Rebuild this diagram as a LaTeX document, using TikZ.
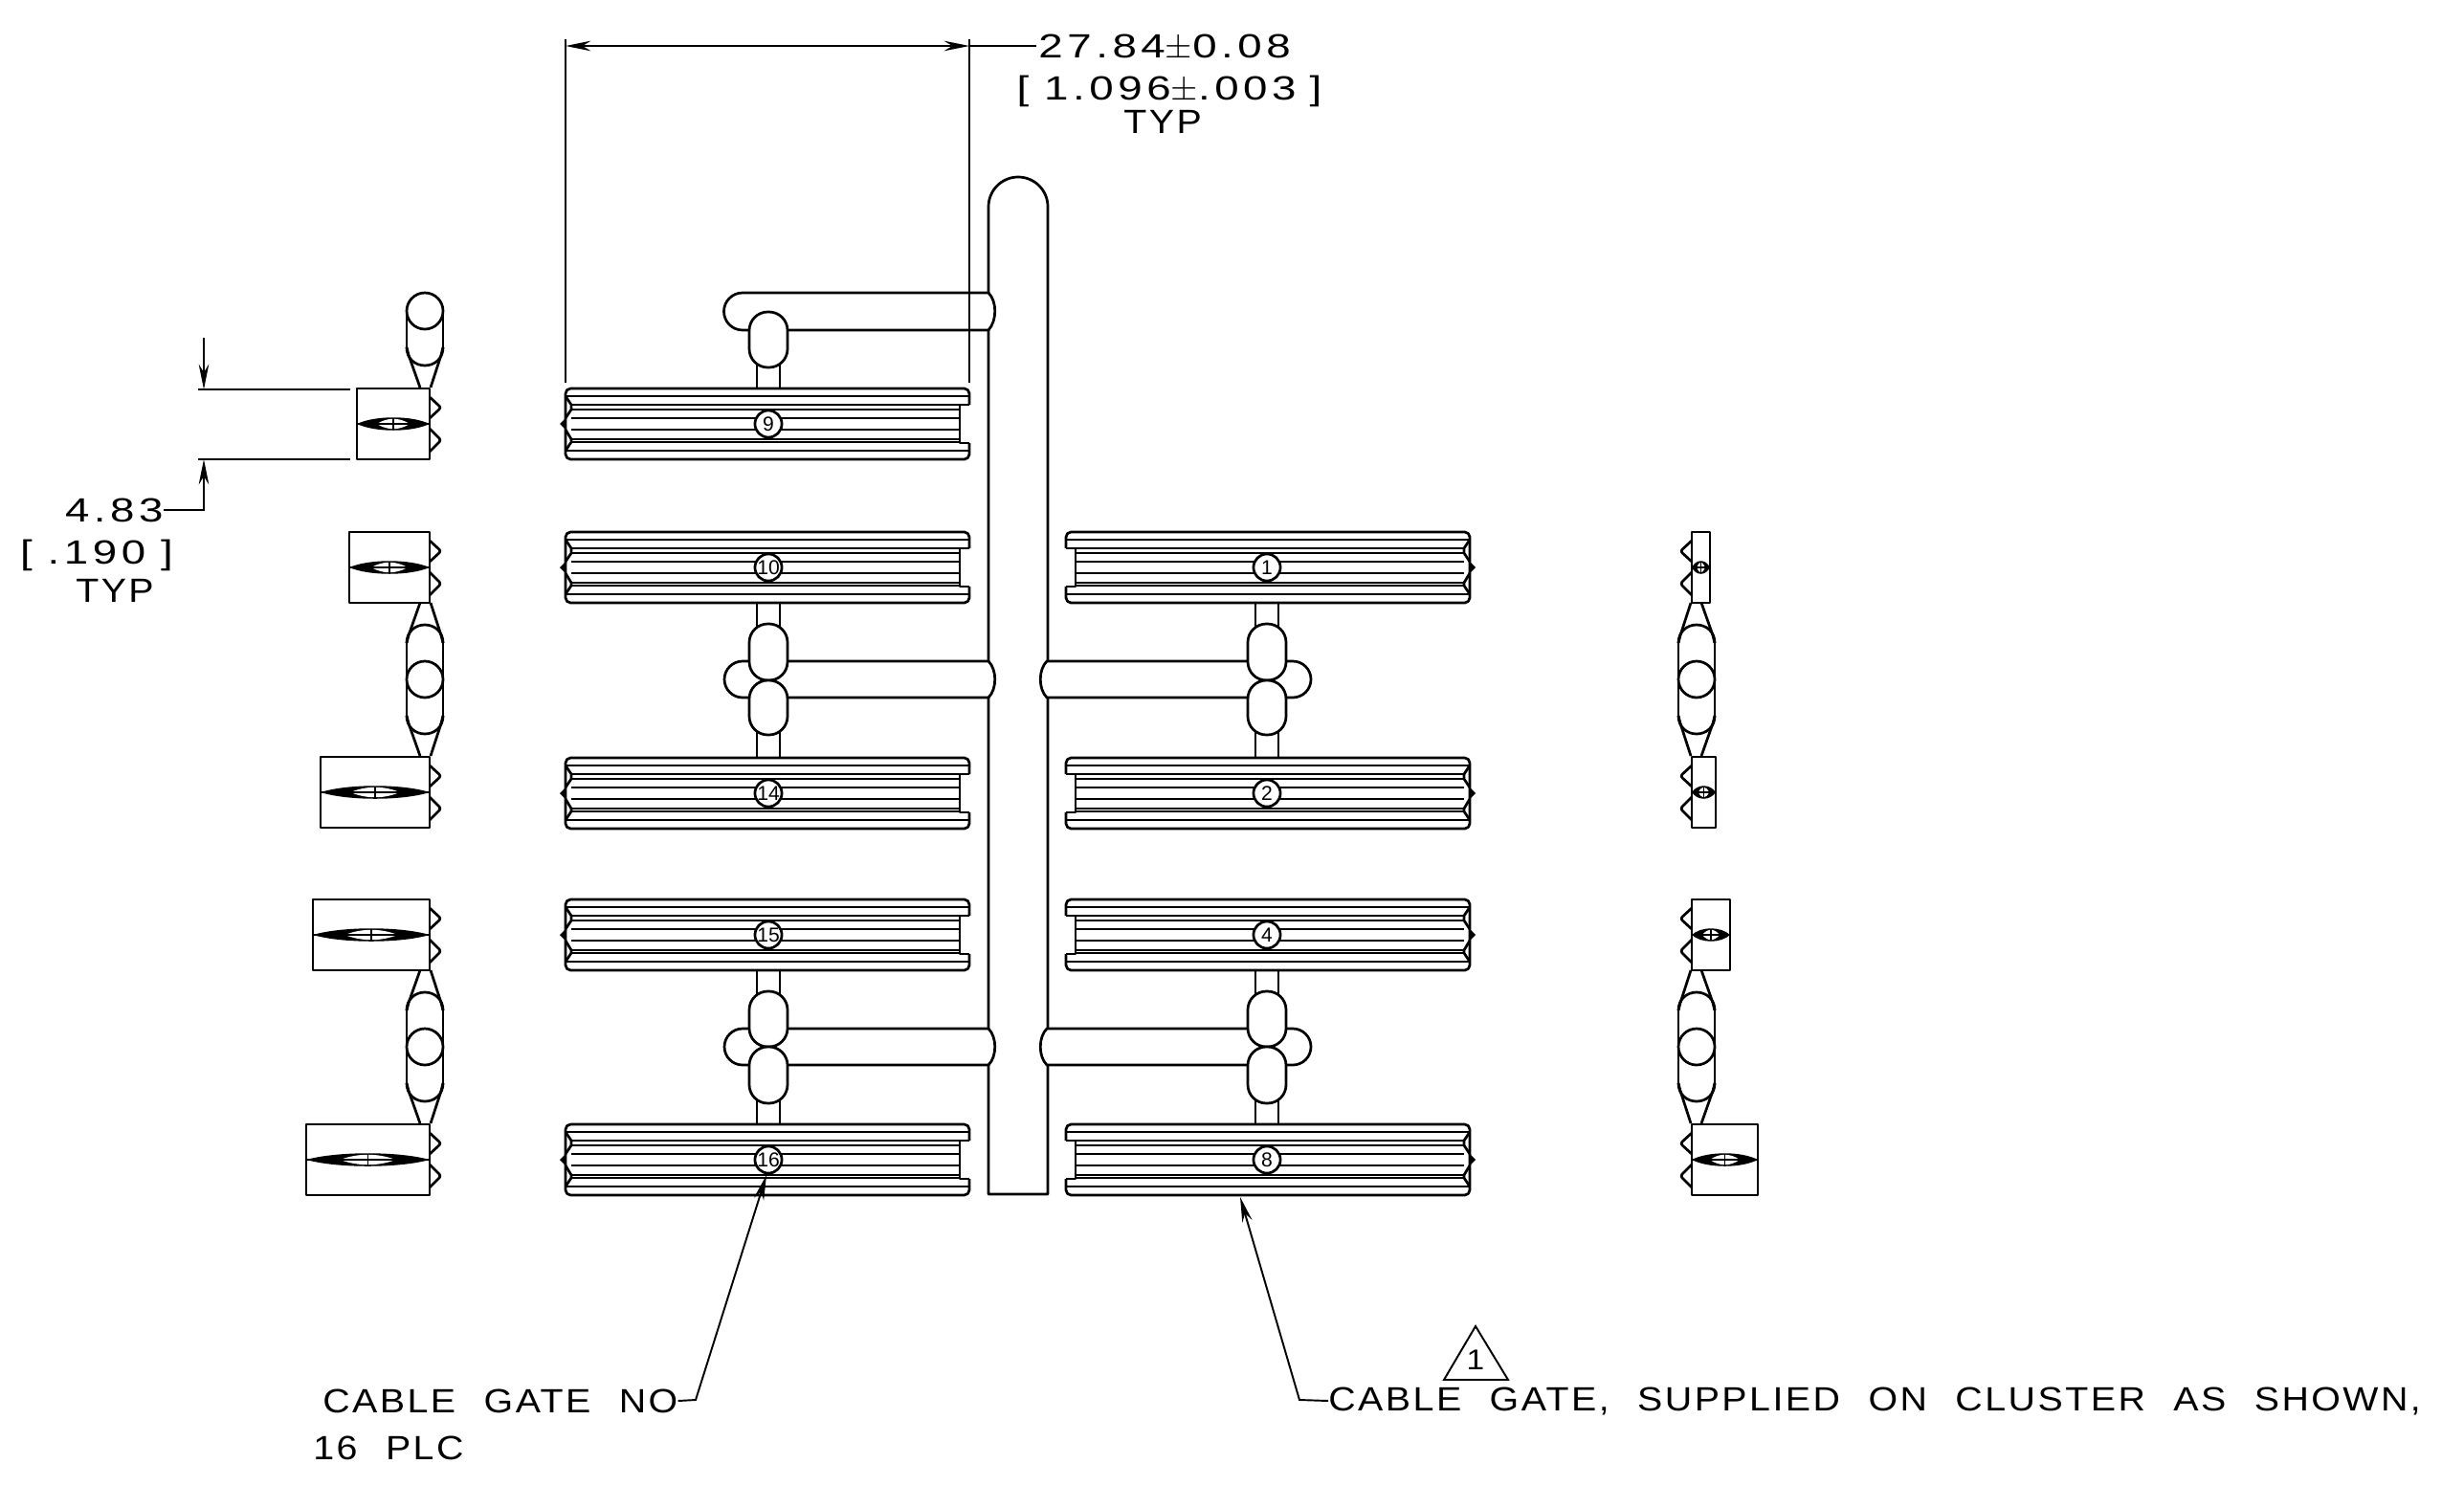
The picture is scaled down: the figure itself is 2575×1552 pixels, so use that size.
\documentclass[tikz,border=0pt]{standalone}
\usepackage{fontspec}
\setmainfont[FakeStretch=1.3,LetterSpace=13]{Liberation Sans}
\newfontfamily\capfont[FakeStretch=1.12,LetterSpace=7,WordSpace=2.2]{Liberation Sans}
\newfontfamily\markfont{Liberation Sans}
\usetikzlibrary{arrows.meta}
\tikzset{
  CablePart/.style={draw=black, line width=1.55pt, line join=round},
  DimLine/.style={draw=black, line width=1.1pt},
  DimArrow/.style={DimLine, -{Stealth[length=15pt,width=6pt]}},
  NoteText/.style={inner sep=0pt, align=center, font=\fontsize{20}{24}\selectfont},
  CapText/.style={inner sep=0pt, align=center, font=\fontsize{20}{24}\selectfont\capfont},
  GateMark/.style={CablePart, circle, fill=white, inner sep=0pt, minimum size=16pt,
    font=\fontsize{12}{12}\selectfont\markfont}
}
\newcommand{\CableGate}[2]{%
  % #1 = centre y, #2 = number in the circle
  \begin{scope}[shift={(803,#1)}]
    \draw[CablePart, rounded corners=3pt] (-205,-37) -- (210,-37) -- (210,-20);
    \draw[CablePart, rounded corners=3pt] (210,20) -- (210,37) -- (-212,37) -- (-212,-37) -- (-205,-37);
    \draw[CablePart] (210,-20) -- (200,-20) -- (200,20) -- (210,20);
    \draw[CablePart] (-212,-29) -- (210,-29);
    \draw[CablePart] (-212,28) -- (210,28);
    \foreach \yy in {-20,-15,-6,6,16,19}
      \draw[CablePart] (-206,\yy) -- (200,\yy);
    \draw[CablePart] (-212,-29) -- (-206,-20) -- (-206,-15) -- (-212,-6);
    \draw[CablePart] (-212,28) -- (-206,19) -- (-206,16) -- (-212,6);
    \fill (-212,-6) -- (-218,0) -- (-212,6) -- cycle;
    \node[GateMark] (Mark#2) at (0,0) {#2};
  \end{scope}
}
\newcommand{\GateRunner}[1]{%
  % #1 = centre y of the runner
  \begin{scope}[shift={(0,#1)}]
    \draw[CablePart, fill=white] (776,-19) -- (1033,-19) .. controls (1042,-10) and (1042,10) .. (1033,19)
      -- (776,19) arc (90:270:19) -- cycle;
  \end{scope}
}
\newcommand{\GateBlob}[2]{%
  % #1 = top y, #2 = bottom y
  \draw[CablePart, fill=white, rounded corners=11pt] (783,#1) rectangle (823,#2);
}
\newcommand{\GateStem}[2]{%
  \draw[CablePart] (791,#1) -- (791,#2);
  \draw[CablePart] (815,#1) -- (815,#2);
}
\newcommand{\SideGate}[2]{%
  % #1 = far edge x, #2 = centre y
  \pgfmathsetmacro{\xmid}{(#1+449)/2}
  \pgfmathsetmacro{\xlen}{(449-#1)/4}
  \begin{scope}[shift={(0,#2)}]
    \draw[CablePart] (#1,-37) rectangle (449,37);
    \draw[CablePart, rounded corners=1.5pt] (449,-28) -- (461,-17) -- (449,-6);
    \draw[CablePart, rounded corners=1.5pt] (449,5) -- (461,17) -- (449,29);
    \fill (#1,0) .. controls (\xmid-\xlen,-9) and (\xmid+\xlen,-9) .. (449,0)
      .. controls (\xmid+\xlen,9) and (\xmid-\xlen,9) .. (#1,0);
    \fill[white] (\xmid-0.9*\xlen,0) .. controls (\xmid-\xlen/3,-7) and (\xmid+\xlen/3,-7) .. (\xmid+0.9*\xlen,0)
      .. controls (\xmid+\xlen/3,7) and (\xmid-\xlen/3,7) .. (\xmid-0.9*\xlen,0);
    \draw[DimLine] (#1,0) -- (449,0);
    \draw[DimLine] (\xmid,-6) -- (\xmid,6);
  \end{scope}
}
\newcommand{\TubeEnd}[1]{%
  % #1 = 1 for the lower end, -1 for the upper end
  \begin{scope}[yscale=#1]
    \draw[CablePart] (425,38) .. controls (425,50) and (434,57) .. (444,57)
      .. controls (454,57) and (463,50) .. (463,38);
    \draw[CablePart] (425,38) -- (427,46) -- (439,80);
    \draw[CablePart] (463,38) -- (461,46) -- (450,80);
  \end{scope}
}
\newcommand{\SideTube}[1]{%
  \begin{scope}[shift={(0,#1)}]
    \draw[CablePart] (444,0) circle (19);
    \draw[CablePart] (425,-38) -- (425,38);
    \draw[CablePart] (463,-38) -- (463,38);
    \TubeEnd{1}
    \TubeEnd{-1}
  \end{scope}
}
\begin{document}
\begin{tikzpicture}[x=0.02cm, y=-0.02cm]
  \useasboundingbox (0,0) rectangle (2575,1552);

  % centre spine
  \draw[CablePart] (1033,1248) -- (1033,216) arc (180:360:31) -- (1095,1248) -- cycle;

  % left half
  \GateStem{345}{406}
  \GateStem{630}{792}
  \GateStem{1014}{1175}
  \draw[CablePart, fill=white] (776,306) -- (1033,306) .. controls (1042,315) and (1042,335) .. (1033,345)
    -- (776,345) arc (90:270:19.5) -- cycle;
  \GateRunner{710}
  \GateRunner{1094}
  \GateBlob{326}{384}
  \GateBlob{652}{711}
  \GateBlob{711}{768}
  \GateBlob{1036}{1094}
  \GateBlob{1094}{1153}
  \CableGate{443}{9}
  \CableGate{593}{10}
  \CableGate{829}{14}
  \CableGate{977}{15}
  \CableGate{1212}{16}

  % right half, mirror of the left
  \begin{scope}[shift={(2127,0)}, xscale=-1]
    \GateStem{630}{792}
    \GateStem{1014}{1175}
    \GateRunner{710}
    \GateRunner{1094}
    \GateBlob{652}{711}
    \GateBlob{711}{768}
    \GateBlob{1036}{1094}
    \GateBlob{1094}{1153}
    \CableGate{593}{1}
    \CableGate{829}{2}
    \CableGate{977}{4}
    \CableGate{1212}{8}
  \end{scope}

  % side views, left
  \SideGate{373}{443}
  \SideGate{365}{593}
  \SideGate{335}{828}
  \SideGate{327}{977}
  \SideGate{320}{1212}
  \begin{scope}[shift={(0,325)}]
    \draw[CablePart] (444,0) circle (19);
    \draw[CablePart] (425,0) -- (425,38);
    \draw[CablePart] (463,0) -- (463,38);
    \TubeEnd{1}
  \end{scope}
  \SideTube{710}
  \SideTube{1094}

  % side views, right
  \begin{scope}[shift={(2217,0)}, xscale=-1]
    \SideGate{430}{593}
    \SideGate{424}{828}
    \SideGate{409}{977}
    \SideGate{380}{1212}
    \SideTube{710}
    \SideTube{1094}
  \end{scope}

  % dimension across the gate
  \coordinate (DimL) at (591,48);
  \coordinate (DimR) at (1013,48);
  \node[NoteText, anchor=west] (DimWide) at (1085,50) {27.84$\pm$0.08};
  \node[NoteText] (DimWideB) at (1222,95) {[\hspace{9pt}1.096$\pm$.003\hspace{8pt}]};
  \node[CapText] (DimWideC) at (1215,127) {TYP};
  \draw[DimLine] (591,41) -- (591,400);
  \draw[DimLine] (1013,41) -- (1013,400);
  \draw[DimLine, {Stealth[length=15pt,width=6pt]}-{Stealth[length=15pt,width=6pt]}] (DimL) -- (DimR);
  \draw[DimLine] (DimR) -- (1083,48);

  % dimension across the gate height
  \coordinate (HighA) at (213,407);
  \coordinate (HighB) at (213,480);
  \coordinate (HighTop) at (213,353);
  \coordinate (HighKnee) at (213,533);
  \node[NoteText, anchor=east] (DimHigh) at (171,533) {4.83};
  \node[NoteText] (DimHighB) at (101,580) {[\hspace{9pt}.190\hspace{9pt}]};
  \node[CapText] (DimHighC) at (120,617) {TYP};
  \draw[DimLine] (207,407) -- (366,407);
  \draw[DimLine] (207,480) -- (366,480);
  \draw[DimArrow] (HighTop) -- (HighA);
  \draw[DimArrow] (DimHigh.east) -- (HighKnee) -- (HighB);

  % leaders
  \node[CapText, anchor=west] (GateNo) at (337,1464) {CABLE GATE NO};
  \node[CapText, anchor=west] (GatePlc) at (327,1513) {16 PLC};
  \node[CapText, anchor=west] (GateNote) at (1388,1464) {CABLE GATE, SUPPLIED ON CLUSTER AS SHOWN,};
  \coordinate (KneeA) at (727,1463);
  \coordinate (TipA) at (801,1228);
  \coordinate (KneeB) at (1358,1463);
  \coordinate (TipB) at (1296,1251);
  \draw[DimArrow] (GateNo.east) -- (KneeA) -- (TipA);
  \draw[DimArrow] (GateNote.west) -- (KneeB) -- (TipB);

  % revision triangle
  \node[CapText, font=\fontsize{17}{17}\selectfont\capfont] (NoteMark) at (1542,1421) {1};
  \draw[DimLine] (1509,1442) -- (1576,1442) -- (1542,1386) -- cycle;
\end{tikzpicture}
\end{document}
